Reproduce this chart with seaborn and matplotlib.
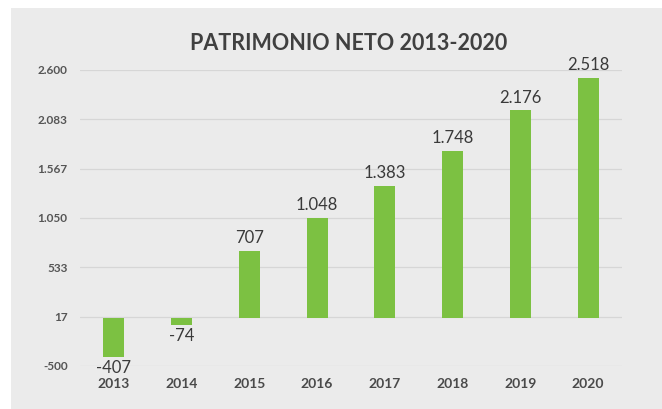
import matplotlib
matplotlib.use("Agg")
import matplotlib.pyplot as plt
import seaborn as sns
import pandas as pd
from matplotlib.patches import Rectangle

years = ["2013", "2014", "2015", "2016", "2017", "2018", "2019", "2020"]
values = [-407, -74, 707, 1048, 1383, 1748, 2176, 2518]
ytick_values = [-500, 17, 533, 1050, 1567, 2083, 2600]
title = "PATRIMONIO NETO 2013-2020"

def fmt(v):
    return f"{v:,}".replace(",", ".")

sns.set_theme(style="white")
plt.rcParams["font.family"] = ["Lato", "DejaVu Sans"]

fig = plt.figure(figsize=(6.62, 4.09), dpi=100, facecolor="white")
bg = Rectangle((11 / 662, 0), 1, 1 - 8 / 409, transform=fig.transFigure,
               facecolor="#ebebeb", edgecolor="none", zorder=-10)
fig.patches.append(bg)
ax = fig.add_axes([80 / 662, 1 - 366 / 409, 542 / 662, 296 / 409])
ax.set_facecolor("none")
ax.set_zorder(5)

df = pd.DataFrame({"year": years, "value": values})
sns.barplot(data=df, x="year", y="value", color="#7cc142", saturation=1, width=0.31,
            linewidth=0, edgecolor="none", ax=ax, zorder=3)

ax.set_ylim(-500, 2600)
ax.set_xlim(-0.5, 7.5)
ax.set_yticks(ytick_values)
ax.set_yticklabels([fmt(v) for v in ytick_values])
ax.yaxis.grid(True, color="#d6d6d6", linewidth=0.9, zorder=0)
ax.xaxis.grid(False)
ax.set_axisbelow(True)
for s in ax.spines.values():
    s.set_visible(False)
ax.tick_params(axis="y", length=0, pad=9, labelsize=8.5, labelcolor="#555555")
ax.tick_params(axis="x", length=0, pad=8.5, labelsize=10, labelcolor="#4a4a4a")
for lab in ax.get_yticklabels() + ax.get_xticklabels():
    lab.set_fontweight("bold")
ax.set_xlabel("")
ax.set_ylabel("")

for i, v in enumerate(values):
    if v >= 0:
        ax.annotate(fmt(v), (i, v), xytext=(0, 3.5), textcoords="offset points",
                    ha="center", va="bottom", fontsize=12, color="#3a3a3a")
    else:
        ax.annotate(fmt(v), (i, v), xytext=(0, -2), textcoords="offset points",
                    ha="center", va="top", fontsize=12, color="#3a3a3a")

fig.text(349 / 662, 1 - 43 / 409, title, ha="center", va="center", fontsize=15.5,
         fontweight="bold", color="#404040")

fig.savefig("out.png", dpi=100)
